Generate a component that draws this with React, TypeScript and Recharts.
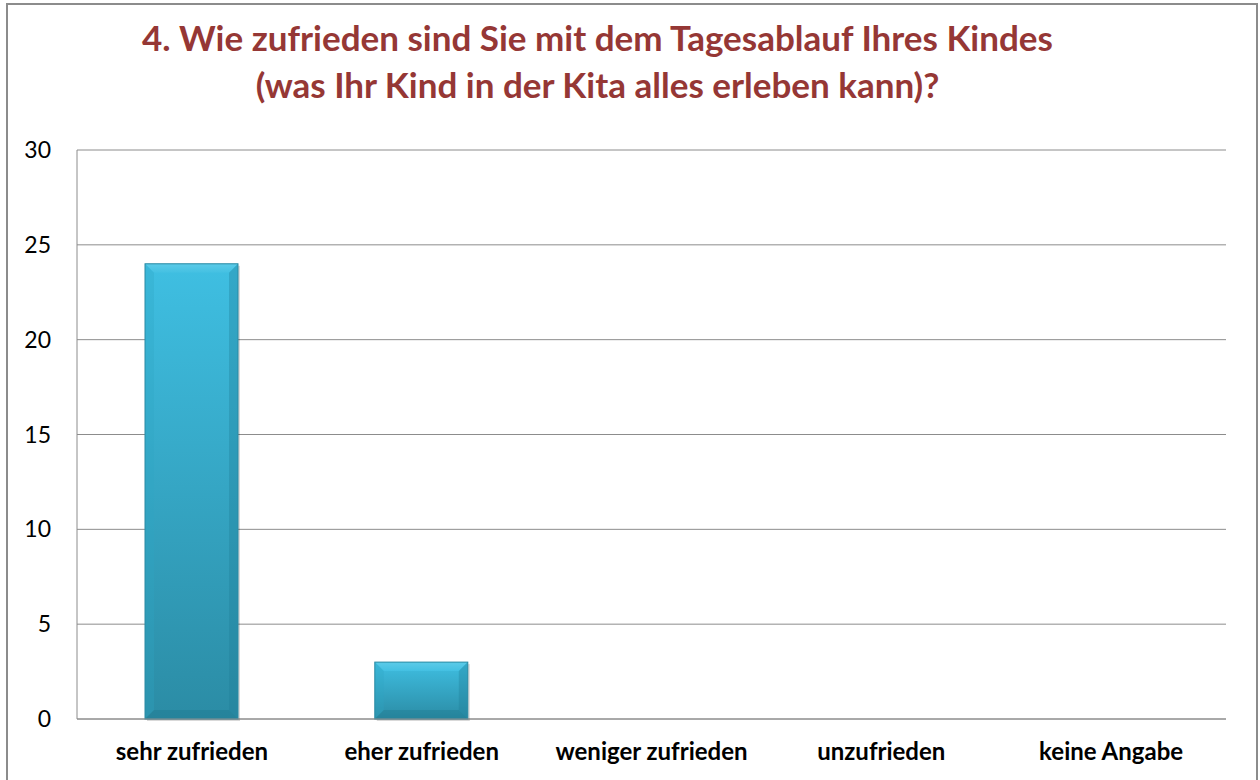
import { BarChart, Bar, XAxis, YAxis, CartesianGrid } from 'recharts';

// answer categories and counts
const categories = ['sehr zufrieden', 'eher zufrieden', 'weniger zufrieden', 'unzufrieden', 'keine Angabe'];
const counts = [24, 3, 0, 0, 0];
const yTicks = [0, 5, 10, 15, 20, 25, 30];

const TITLE_1 = '4. Wie zufrieden sind Sie mit dem Tagesablauf Ihres Kindes';
const TITLE_2 = '(was Ihr Kind in der Kita alles erleben kann)?';

const FONT = 'Lato, "Open Sans", sans-serif';

const chartData = categories.map((name, i) => ({ name, value: counts[i] }));

// bevelled bar, roughly like the office "3D" bar style
function BevelBar(props: any) {
  const { x, y, width, height } = props;
  if (!height || height <= 0) return null;
  const b = Math.min(9, height / 3);
  return (
    <g>
      <rect x={x + 2} y={y + 2} width={width} height={height} fill="#000" opacity={0.15} />
      <rect x={x} y={y} width={width} height={height} fill="url(#barGrad)" />
      <polygon
        points={`${x},${y} ${x + width},${y} ${x + width - b},${y + b} ${x + b},${y + b}`}
        fill="url(#bevelTop)"
      />
      <polygon
        points={`${x},${y} ${x + b},${y + b} ${x + b},${y + height - b} ${x},${y + height}`}
        fill="#2fa6c4"
        opacity={0.3}
      />
      <polygon
        points={`${x + width},${y} ${x + width - b},${y + b} ${x + width - b},${y + height - b} ${x + width},${y + height}`}
        fill="#1f7f98"
        opacity={0.35}
      />
      <polygon
        points={`${x},${y + height} ${x + b},${y + height - b} ${x + width - b},${y + height - b} ${x + width},${y + height}`}
        fill="#1c6f85"
        opacity={0.3}
      />
      <rect x={x} y={y} width={width} height={height} fill="none" stroke="#2a8aa3" strokeWidth={1} />
    </g>
  );
}

export default function App() {
  return (
    <div style={{ position: 'absolute', left: 0, top: 0, width: 1260, height: 780, background: '#fff', overflow: 'hidden' }}>
      <div
        style={{
          position: 'absolute',
          left: 6,
          top: 3,
          width: 1248,
          height: 800,
          border: '2px solid #8c8c8c',
        }}
      />
      <div
        style={{
          position: 'absolute',
          left: 0,
          top: 14,
          width: 1195,
          textAlign: 'center',
          fontFamily: FONT,
          fontWeight: 700,
          fontSize: 35,
          lineHeight: '47px',
          color: '#953735',
        }}
      >
        <div>{TITLE_1}</div>
        <div>{TITLE_2}</div>
      </div>
      <BarChart
        width={1260}
        height={780}
        data={chartData}
        margin={{ top: 150, right: 34, bottom: 31, left: 0 }}
        style={{ position: 'absolute', left: 0, top: 0 }}
      >
        <defs>
          <linearGradient id="barGrad" x1="0" y1="0" x2="0" y2="1">
            <stop offset="0%" stopColor="#3fbfe2" />
            <stop offset="100%" stopColor="#2b8ca5" />
          </linearGradient>
          <linearGradient id="bevelTop" x1="0" y1="0" x2="0" y2="1">
            <stop offset="0%" stopColor="#5ccbe8" />
            <stop offset="100%" stopColor="#43c0e2" />
          </linearGradient>
        </defs>
        <CartesianGrid vertical={false} stroke="#8c8c8c" strokeWidth={1} />
        <XAxis
          dataKey="name"
          height={30}
          axisLine={{ stroke: '#8c8c8c' }}
          tickLine={false}
          interval={0}
          tickMargin={18}
          tick={{ fill: '#000', fontFamily: FONT, fontWeight: 700, fontSize: 24 }}
        />
        <YAxis
          width={77}
          domain={[0, 30]}
          ticks={yTicks}
          axisLine={{ stroke: '#8c8c8c' }}
          tickLine={false}
          tickMargin={20}
          tick={{ fill: '#000', fontFamily: FONT, fontSize: 23 }}
        />
        <Bar dataKey="value" barSize={93} shape={<BevelBar />} isAnimationActive={false} />
      </BarChart>
    </div>
  );
}
